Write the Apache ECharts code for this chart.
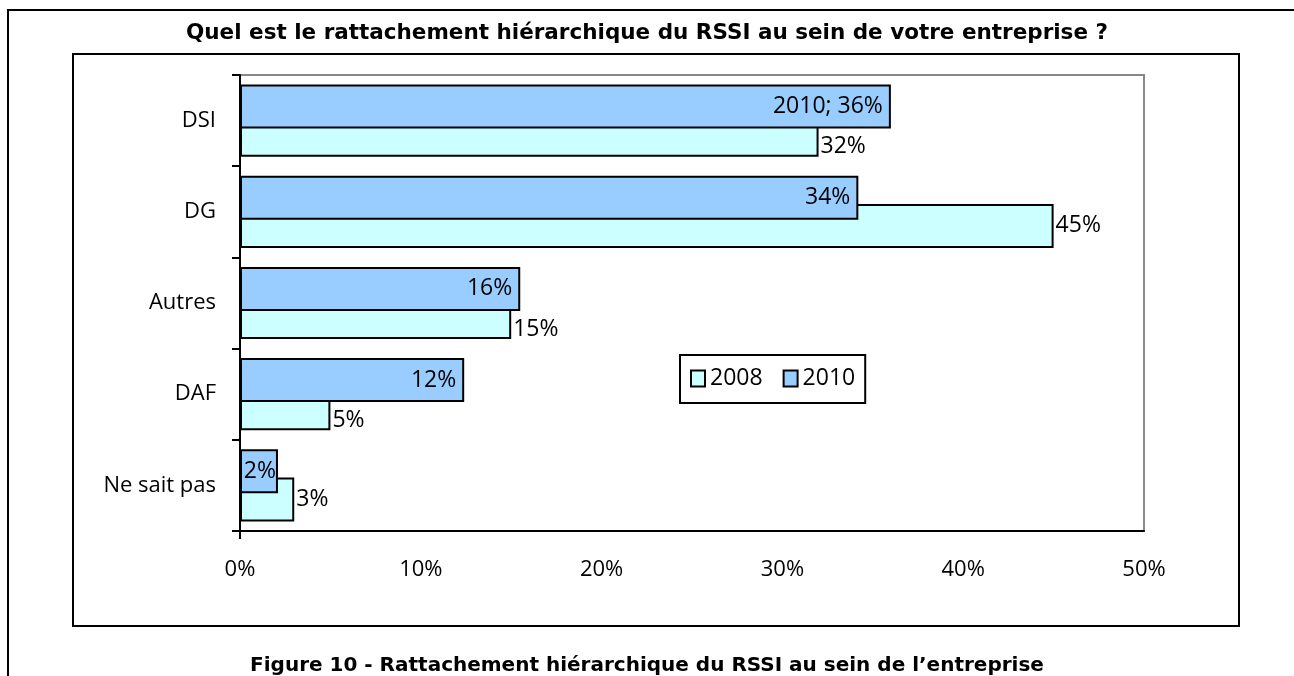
<!DOCTYPE html>
<html>
<head>
<meta charset="utf-8">
<script src="https://cdn.jsdelivr.net/npm/echarts@6/dist/echarts.min.js"></script>
<style>
  html, body { margin: 0; padding: 0; background: #fff; }
  #chart { width: 1294px; height: 676px; }
</style>
</head>
<body>
<div id="chart"></div>
<script>
// categories top to bottom
const categories = ['DSI', 'DG', 'Autres', 'DAF', 'Ne sait pas']
const values2008 = [32, 45, 15, 5, 3]
const values2010 = [36, 34.2, 15.5, 12.4, 2.1]
const xTicks = [0, 10, 20, 30, 40, 50]

const labelFont = 'Open Sans'

const chart = echarts.init(document.getElementById('chart'))

// Excel pushed the 2008 labels down where the 2010 bar runs past them
const data2008 = values2008.map((v, i) => ({
  value: v,
  label: values2010[i] > v ? { offset: [0, 12] } : {}
}))

// very short 2010 bars: label hugs the bar end
const data2010 = values2010.map(v => ({
  value: v,
  label: v < 5 ? { distance: 2 } : {}
}))

const option = {
  animation: false,
  backgroundColor: '#fff',
  title: [
    {
      text: 'Quel est le rattachement hiérarchique du RSSI au sein de votre entreprise ?',
      left: 'center',
      top: 17,
      textStyle: { fontFamily: 'DejaVu Sans', fontWeight: 'bold', fontSize: 21.5, color: '#000' }
    },
    {
      text: 'Figure 10 - Rattachement hiérarchique du RSSI au sein de l\u2019entreprise',
      left: 'center',
      top: 651,
      textStyle: { fontFamily: 'DejaVu Sans', fontWeight: 'bold', fontSize: 20, color: '#000' }
    }
  ],
  graphic: [
    {
      type: 'rect',
      shape: { x: 8, y: 10, width: 1300, height: 700 },
      style: { fill: 'none', stroke: '#000', lineWidth: 2 },
      silent: true
    },
    {
      type: 'rect',
      shape: { x: 73, y: 54, width: 1166, height: 572 },
      style: { fill: 'none', stroke: '#000', lineWidth: 2 },
      silent: true
    }
  ],
  legend: {
    data: ['2008', '2010'],
    left: 680,
    top: 355,
    icon: 'rect',
    itemWidth: 14,
    itemHeight: 16,
    itemGap: 20,
    padding: [12, 10, 13, 10],
    borderColor: '#000',
    borderWidth: 2,
    textStyle: { fontFamily: labelFont, fontSize: 23, color: '#000' }
  },
  grid: {
    left: 240,
    right: 1294 - 1144,
    top: 75,
    bottom: 676 - 531,
    show: true,
    borderColor: '#888',
    borderWidth: 2
  },
  xAxis: {
    type: 'value',
    min: 0,
    max: 50,
    interval: 10,
    axisLine: { show: true, lineStyle: { color: '#000', width: 2 } },
    axisTick: { show: true, customValues: [0], length: 8, lineStyle: { color: '#000', width: 2 } },
    splitLine: { show: true, lineStyle: { color: '#888', width: 2 } },
    axisLabel: {
      margin: 28,
      fontFamily: labelFont,
      fontSize: 22,
      color: '#000',
      formatter: v => (xTicks.includes(v) ? v + '%' : '')
    }
  },
  yAxis: {
    type: 'category',
    inverse: true,
    data: categories,
    axisLine: { show: true, lineStyle: { color: '#000', width: 2 } },
    axisTick: { show: true, length: 8, lineStyle: { color: '#000', width: 2 } },
    axisLabel: {
      margin: 24,
      fontFamily: labelFont,
      fontSize: 22,
      color: '#000'
    }
  },
  series: [
    {
      name: '2010',
      type: 'bar',
      data: data2010,
      barWidth: 44,
      barGap: '-36%',
      z: 3,
      itemStyle: { color: '#99CCFF', borderColor: '#000', borderWidth: 2 },
      label: {
        show: true,
        position: 'insideRight',
        distance: 8,
        fontFamily: labelFont,
        fontSize: 23,
        color: '#000',
        formatter: p => (p.dataIndex === 0 ? '2010; ' : '') + Math.round(p.value) + '%'
      }
    },
    {
      name: '2008',
      type: 'bar',
      data: data2008,
      barWidth: 44,
      barGap: '-36%',
      z: 2,
      itemStyle: { color: '#CCFFFF', borderColor: '#000', borderWidth: 2 },
      label: {
        show: true,
        position: 'right',
        distance: 2,
        fontFamily: labelFont,
        fontSize: 23,
        color: '#000',
        formatter: p => Math.round(p.value) + '%'
      }
    }
  ]
}

chart.setOption(option)
</script>
</body>
</html>
